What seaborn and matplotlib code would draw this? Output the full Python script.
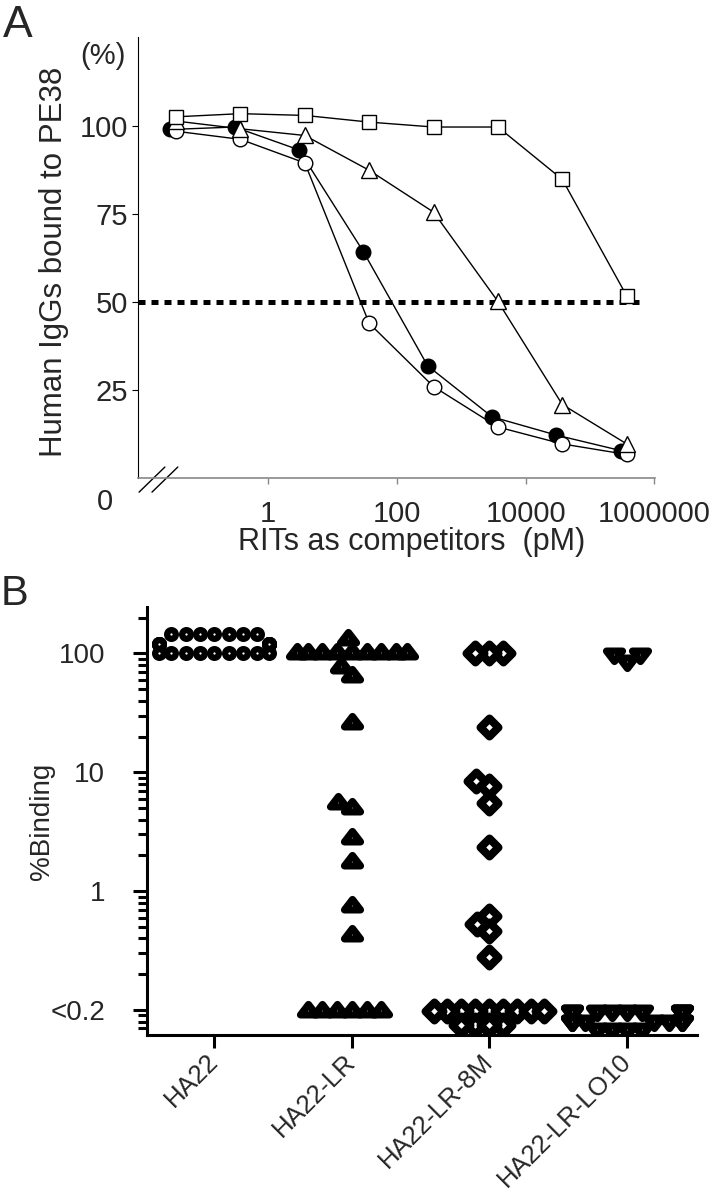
import seaborn as sns
import matplotlib.pyplot as plt
import pandas as pd
from matplotlib.path import Path
from matplotlib.ticker import FixedLocator, FixedFormatter, NullFormatter

# ---------------- panel A: competition curves ----------------
conc = [0.037, 0.37, 3.7, 37, 370, 3700, 37000, 370000]
conc_filled = [0.03, 0.3, 3, 30, 300, 3000, 30000, 300000]
filled_circle = [99.1, 99.8, 93.3, 64.4, 31.9, 17.4, 12.2, 7.8]
open_circle = [98.6, 96.3, 89.6, 44.0, 26.0, 14.5, 9.7, 6.7]
open_triangle = [101.5, 99.3, 97.4, 87.5, 75.6, 50.2, 20.9, 9.7]
open_square = [102.7, 103.6, 103.1, 101.2, 99.8, 99.8, 84.9, 51.8]
half_binding = 50
a_xticks = [1, 100, 10000, 1000000]
a_xticklabels = ["1", "100", "10000", "1000000"]
a_yticks = [25, 50, 75, 100]
a_yticklabels = ["25", "50", "75", "100"]

# ---------------- panel B: % binding per RIT ----------------
groups = ["HA22", "HA22-LR", "HA22-LR-8M", "HA22-LR-LO10"]
ha22 = [147, 147, 147, 147, 147, 147, 147,
        121, 121, 121, 121, 121, 121, 121, 121, 121,
        100, 100, 100, 100, 100, 100, 100, 100, 100]
ha22_lr = [134, 103, 103, 103, 103, 103, 103, 103, 103, 103,
           78, 65.6, 26.5, 5.6, 5.07, 2.83, 1.80, 0.758, 0.437,
           0.1, 0.1, 0.1, 0.1, 0.1, 0.1]
ha22_lr_8m = [100, 100, 100, 24.1, 8.5, 7.73, 5.48, 2.35,
              0.624, 0.531, 0.466, 0.278,
              0.099, 0.099, 0.099, 0.099, 0.099, 0.099, 0.099, 0.099, 0.099,
              0.075, 0.075, 0.075, 0.075]
ha22_lr_lo10 = [97, 97, 85,
                0.097, 0.097, 0.097, 0.097, 0.097, 0.097, 0.097, 0.097, 0.097,
                0.080, 0.080, 0.080, 0.080, 0.080, 0.080, 0.080, 0.080, 0.080,
                0.068, 0.068, 0.068, 0.068]
b_yticks = [0.1, 1, 10, 100]
b_yticklabels = ["<0.2", "1", "10", "100"]
b_minor = [0.07, 0.08, 0.09, 0.2, 0.3, 0.4, 0.5, 0.6, 0.7, 0.8, 0.9,
           2, 3, 4, 5, 6, 7, 8, 9, 20, 30, 40, 50, 60, 70, 80, 90, 200]

sns.set_theme(style="white")
plt.rcParams["font.family"] = ["Liberation Sans", "DejaVu Sans"]

fig = plt.figure(figsize=(7.23, 11.93), dpi=100)
axA = fig.add_axes([0.1909, 0.5993, 0.7151, 0.3697])
axB = fig.add_axes([0.2033, 0.1324, 0.7607, 0.3590])

# ---- panel A
axA.set_xscale("log")
axA.hlines(half_binding, 0.0095, 6.8e5, colors="black", linewidth=3.6,
           linestyles=(0, (1.4, 1.2)), zorder=1.5)

common = dict(ax=axA, color="black", linewidth=1.0, markeredgecolor="black",
              markeredgewidth=1.0, legend=False)
sns.lineplot(x=conc_filled, y=filled_circle, marker="o", markersize=10.5,
             markerfacecolor="black", **common)
sns.lineplot(x=conc, y=open_circle, marker="o", markersize=10.5,
             markerfacecolor="white", **common)
sns.lineplot(x=conc, y=open_triangle, marker="^", markersize=11.5,
             markerfacecolor="white", **common)
sns.lineplot(x=conc, y=open_square, marker="s", markersize=10,
             markerfacecolor="white", **common)

axA.set_xlim(0.0095, 1.02e6)
axA.set_ylim(0, 125.4)
axA.xaxis.set_major_locator(FixedLocator(a_xticks))
axA.xaxis.set_major_formatter(FixedFormatter(a_xticklabels))
axA.xaxis.set_minor_formatter(NullFormatter())
axA.tick_params(axis="x", which="minor", length=0)
axA.yaxis.set_major_locator(FixedLocator(a_yticks))
axA.yaxis.set_major_formatter(FixedFormatter(a_yticklabels))
axA.tick_params(axis="x", which="major", direction="out", length=4, width=1,
                color="#888888", labelsize=21, pad=12, bottom=True)
axA.tick_params(axis="y", which="major", direction="out", length=4, width=0.8,
                color="black", labelsize=21, pad=3, left=True)
for side in ["top", "right"]:
    axA.spines[side].set_visible(False)
axA.spines["left"].set_color("black")
axA.spines["left"].set_linewidth(0.8)
axA.spines["bottom"].set_color("#888888")
axA.spines["bottom"].set_linewidth(1.2)

axA.set_ylabel("Human IgGs bound to PE38", fontsize=22.5)
axA.yaxis.set_label_coords(-0.133, 0.49)
axA.set_xlabel("RITs as competitors  (pM)", fontsize=22)
axA.xaxis.set_label_coords(0.53, -0.112)

# axis break marks and the stand-alone zero
for dx in [0.0, 0.025]:
    axA.plot([0.002 + dx, 0.052 + dx], [-0.032, 0.025], transform=axA.transAxes,
             color="black", linewidth=1.0, clip_on=False)
axA.annotate("0", xy=(0, 0), xycoords="axes fraction", xytext=(-24, -17),
             textcoords="offset points", ha="center", va="center", fontsize=21)
axA.annotate("(%)", xy=(0, 1), xycoords="axes fraction", xytext=(-25, -14),
             textcoords="offset points", ha="center", va="center", fontsize=21)

# ---- panel B
axB.set_yscale("log")
axB.set_ylim(0.0616, 247)

tri_up = Path([(-1, -0.55), (1, -0.55), (0, 0.75), (-1, -0.55)], closed=True)
tri_down = Path([(-1, 0.55), (1, 0.55), (0, -0.75), (-1, 0.55)], closed=True)
diamond = Path([(0, 1), (1, 0), (0, -1), (-1, 0), (0, 1)], closed=True)

dfB = pd.DataFrame({
    "group": [groups[0]] * len(ha22) + [groups[1]] * len(ha22_lr)
    + [groups[2]] * len(ha22_lr_8m) + [groups[3]] * len(ha22_lr_lo10),
    "binding": ha22 + ha22_lr + ha22_lr_8m + ha22_lr_lo10,
})

# marker, swarm size (pt), drawn size (pt), edge width (pt)
specs = [("o", 5.36, 6.3, 4.5), (tri_up, 4.9, 11.5, 5.2),
         (diamond, 3.8, 12.9, 5.8), (tri_down, 5.0, 11.5, 5.2)]
colls = []
for g, (mk, s_swarm, s_draw, lw) in zip(groups, specs):
    n_before = len(axB.collections)
    sns.swarmplot(data=dfB[dfB["group"] == g], x="group", y="binding", order=groups,
                  marker=mk, size=s_swarm, color="white", edgecolor="black",
                  linewidth=lw, ax=axB, warn_thresh=1)
    for coll in axB.collections[n_before:]:
        if len(coll.get_offsets()) > 0:
            colls.append((coll, s_draw))

axB.set_xlim(-0.49, 3.51)
axB.set_ylim(0.0616, 247)
fig.canvas.draw()
for coll, s_draw in colls:
    vars(coll).pop("draw", None)
    coll.set_sizes([s_draw ** 2])

axB.yaxis.set_major_locator(FixedLocator(b_yticks))
axB.yaxis.set_major_formatter(FixedFormatter(b_yticklabels))
axB.yaxis.set_minor_locator(FixedLocator(b_minor))
axB.yaxis.set_minor_formatter(NullFormatter())
axB.tick_params(axis="y", which="major", direction="out", length=10, width=2.2,
                color="black", labelsize=20, pad=20, left=True)
axB.tick_params(axis="y", which="minor", direction="out", length=6.5, width=2.2,
                color="black", left=True)
axB.tick_params(axis="x", which="major", direction="out", length=9.4, width=2.2,
                color="black", labelsize=18.5, pad=7, bottom=True)
plt.setp(axB.get_xticklabels(), rotation=45, ha="right", va="center",
         rotation_mode="anchor")
for side in ["top", "right"]:
    axB.spines[side].set_visible(False)
for side in ["left", "bottom"]:
    axB.spines[side].set_color("black")
    axB.spines[side].set_linewidth(2.2)
axB.set_xlabel("")
axB.set_ylabel("%Binding", fontsize=20)
axB.yaxis.set_label_coords(-0.167, 0.5)

fig.text(3 / 723, 1 - 37 / 1193, "A", fontsize=32, va="baseline")
fig.text(1 / 723, 1 - 605 / 1193, "B", fontsize=30, va="baseline")

plt.savefig("out.png", dpi=100)
